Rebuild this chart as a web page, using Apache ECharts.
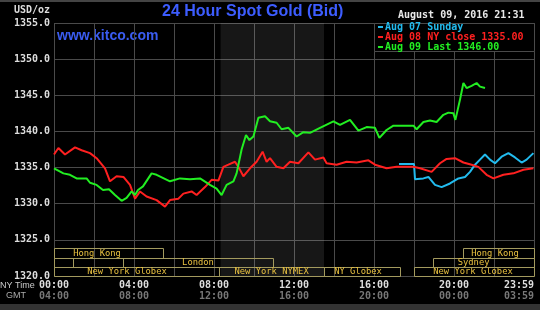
<!DOCTYPE html>
<html>
<head>
<meta charset="utf-8">
<script src="https://cdn.jsdelivr.net/npm/echarts@6/dist/echarts.min.js"></script>
<style>
html,body{margin:0;padding:0;background:#000;}
#main{width:540px;height:310px;}
</style>
</head>
<body>
<div id="main"></div>
<script>
// 时间(小时, 纽约时间) / 价格 USD/oz
var aug07 = [[17.25,1335.5],[18.0,1335.5],[18.05,1333.4],[18.13,1333.3],[18.47,1333.5],[18.72,1333.7],[19.05,1332.6],[19.38,1332.3],[19.8,1332.8],[20.22,1333.5],[20.55,1333.7],[20.8,1334.4],[21.05,1335.4],[21.3,1336.1],[21.55,1336.8],[21.8,1336.1],[22.05,1335.6],[22.38,1336.5],[22.72,1337.0],[23.05,1336.4],[23.38,1335.7],[23.63,1336.1],[23.97,1337.0]];
var aug08 = [[0,1336.8],[0.22,1337.7],[0.55,1336.8],[1.05,1337.8],[1.38,1337.4],[1.8,1337.0],[2.13,1336.3],[2.55,1334.9],[2.8,1333.1],[3.13,1333.8],[3.47,1333.7],[3.8,1332.6],[4.05,1330.7],[4.3,1331.7],[4.63,1331.0],[5.13,1330.5],[5.55,1329.6],[5.8,1330.5],[6.22,1330.7],[6.47,1331.4],[6.88,1331.7],[7.13,1331.2],[7.55,1332.3],[7.88,1333.3],[8.22,1333.2],[8.47,1335.1],[8.72,1335.4],[9.05,1335.8],[9.22,1335.1],[9.47,1333.8],[9.8,1334.9],[10.13,1335.8],[10.43,1337.2],[10.63,1335.8],[10.8,1336.3],[11.13,1335.1],[11.47,1334.9],[11.8,1335.8],[12.22,1335.6],[12.72,1337.1],[13.05,1336.1],[13.47,1336.4],[13.63,1335.6],[14.13,1335.4],[14.63,1335.8],[15.13,1335.7],[15.72,1336.0],[16.05,1335.4],[16.63,1334.9],[17.13,1335.1],[17.97,1335.1],[18.3,1334.9],[18.88,1334.4],[19.3,1335.6],[19.63,1336.2],[20.05,1336.3],[20.47,1335.7],[20.88,1335.4],[21.22,1335.1],[21.63,1334.0],[21.97,1333.5],[22.47,1334.0],[22.97,1334.2],[23.47,1334.7],[23.97,1334.9]];
var aug09 = [[0,1334.9],[0.47,1334.2],[0.8,1334.0],[1.13,1333.5],[1.63,1333.5],[1.8,1332.9],[2.13,1332.6],[2.45,1331.9],[2.75,1332.0],[3.05,1331.2],[3.38,1330.4],[3.63,1330.8],[3.88,1331.7],[4.05,1331.2],[4.2,1331.9],[4.45,1332.4],[4.88,1334.2],[5.13,1334.0],[5.8,1333.1],[6.3,1333.5],[6.8,1333.4],[7.3,1333.5],[7.8,1332.6],[8.13,1332.1],[8.38,1331.2],[8.63,1332.6],[8.97,1333.1],[9.13,1334.2],[9.38,1337.5],[9.6,1339.5],[9.77,1338.8],[9.97,1339.3],[10.22,1341.9],[10.55,1342.1],[10.8,1341.4],[11.13,1341.2],[11.38,1340.3],[11.72,1340.5],[12.13,1339.3],[12.47,1339.9],[12.8,1339.8],[13.3,1340.5],[13.97,1341.4],[14.3,1340.9],[14.8,1341.6],[15.22,1340.1],[15.63,1340.6],[16.05,1340.5],[16.27,1339.1],[16.63,1340.2],[16.97,1340.8],[17.97,1340.8],[18.13,1340.3],[18.47,1341.3],[18.8,1341.5],[19.13,1341.3],[19.47,1342.3],[19.72,1342.6],[19.97,1342.5],[20.07,1341.6],[20.3,1344.4],[20.47,1346.7],[20.63,1346.0],[20.88,1346.3],[21.13,1346.7],[21.3,1346.2],[21.55,1346.0]];
var seriesNames = ['Aug 07 Sunday', 'Aug 08 NY close 1335.00', 'Aug 09 Last 1346.00'];
var nyTicks = ['00:00','02:00','04:00','06:00','08:00','10:00','12:00','14:00','16:00','18:00','20:00','22:00','23:59'];
var gmtTicks = ['04:00','06:00','08:00','10:00','12:00','14:00','16:00','18:00','20:00','22:00','00:00','02:00','03:59'];
// NYMEX 交易时段 (阴影)
var nymexHours = [8.33, 13.5];
// 交易所时段: 开始, 结束, 行, 名称, 名称中心
var sessStart = [0, 0, 0.95, 3.45, 0, 8.25, 13.5, 18.0, 18.95, 20.45];
var sessEnd   = [5.45, 0.95, 3.45, 10.95, 8.25, 13.5, 17.3, 24, 24, 24];
var sessRow   = [0, 1, 1, 1, 2, 2, 2, 2, 1, 0];
var sessName  = ['Hong Kong', '', '', 'London', 'New York Globex', 'New York NYMEX', 'NY Globex', 'New York Globex', 'Sydney', 'Hong Kong'];
var sessMid   = [2.15, 0, 0, 7.2, 3.65, 10.88, 15.2, 20.95, 20.98, 22.05];
var rowTop = [1323.85, 1322.5, 1321.2, 1320.0];

var sessData = [];
for (var i = 0; i < sessStart.length; i++) {
	sessData.push([sessStart[i], sessEnd[i], sessRow[i], sessMid[i], sessName[i]]);
}

var mono = 'DejaVu Sans Mono';
var chart = echarts.init(document.getElementById('main'));
var option = {
	backgroundColor: '#000',
	animation: false,
	grid: {left: 54, right: 6, top: 23, bottom: 34},
	legend: {
		orient: 'vertical',
		left: 378, top: 22, padding: 0,
		itemWidth: 5, itemHeight: 2, itemGap: 0,
		icon: 'rect',
		z: 6,
		data: [
			{name: seriesNames[0], textStyle: {color: '#22bbee'}},
			{name: seriesNames[1], textStyle: {color: '#ff2020'}},
			{name: seriesNames[2], textStyle: {color: '#22ee22'}}
		],
		textStyle: {fontFamily: mono, fontSize: 10, fontWeight: 'bold', lineHeight: 9.3, padding: [0, 0, 0, -3]}
	},
	graphic: [
		{type: 'rect', left: 0, top: 0, shape: {width: 540, height: 2}, style: {fill: '#444'}},
		{type: 'rect', left: 0, top: 304, shape: {width: 540, height: 6}, style: {fill: '#333'}},
		{type: 'rect', left: 374, top: 23, z: 5, shape: {width: 160, height: 28}, style: {fill: '#000', stroke: '#4a4a4a', lineWidth: 1}},
		{type: 'text', left: 14, top: 5, style: {text: 'USD/oz', fill: '#ddd', font: 'bold 10px ' + mono}},
		{type: 'text', left: 162, top: 4, style: {text: '24 Hour Spot Gold (Bid)', fill: '#3d5dff', font: 'bold 16px "Liberation Sans"'}},
		{type: 'text', left: 57, top: 29, style: {text: 'www.kitco.com', fill: '#3a5cf0', font: 'bold 14px "Liberation Sans"'}},
		{type: 'text', left: 398, top: 10, style: {text: 'August 09, 2016 21:31', fill: '#e8e8e8', font: 'bold 10px ' + mono}},
		{type: 'text', left: 0, top: 281, style: {text: 'NY Time', fill: '#ccc', font: '9px "Liberation Sans"'}},
		{type: 'text', left: 6, top: 291, style: {text: 'GMT', fill: '#aaa', font: '9px "Liberation Sans"'}}
	],
	xAxis: {
		type: 'value', min: 0, max: 24, interval: 2,
		axisLine: {show: false}, axisTick: {show: false},
		splitLine: {show: true, lineStyle: {color: '#4a4a4a', width: 1}},
		axisLabel: {
			margin: 4,
			alignMaxLabel: 'right',
			formatter: function (v) {
				if (v % 4 !== 0) return '';
				var k = v / 2;
				return '{a|' + nyTicks[k] + '}\n{b|' + gmtTicks[k] + '}';
			},
			rich: {
				a: {fontFamily: mono, fontSize: 10, fontWeight: 'bold', color: '#ddd', lineHeight: 11},
				b: {fontFamily: mono, fontSize: 10, fontWeight: 'bold', color: '#777', lineHeight: 11}
			}
		}
	},
	yAxis: {
		type: 'value', min: 1320, max: 1355, interval: 5,
		axisLine: {show: false}, axisTick: {show: false},
		splitLine: {show: true, lineStyle: {color: '#4a4a4a', width: 1}},
		axisLabel: {
			margin: 4, color: '#ddd', fontFamily: mono, fontSize: 10, fontWeight: 'bold',
			formatter: function (v) { return v.toFixed(1); }
		}
	},
	series: [
		{
			name: 'sessions', type: 'custom', silent: true, z: 1,
			data: sessData,
			renderItem: function (params, api) {
				var x0 = api.coord([api.value(0), 0])[0];
				var x1 = api.coord([api.value(1), 0])[0];
				var r = api.value(2);
				var y0 = api.coord([0, rowTop[r]])[1];
				var y1 = api.coord([0, rowTop[r + 1]])[1];
				var xm = api.coord([api.value(3), 0])[0];
				return {
					type: 'group',
					children: [
						{type: 'rect', shape: {x: Math.round(x0) + 0.5, y: Math.round(y0) + 0.5, width: Math.round(x1 - x0), height: Math.round(y1 - y0)},
							style: {fill: 'none', stroke: '#a39a5e', lineWidth: 1}},
						{type: 'text', style: {text: api.value(4), x: xm, y: (y0 + y1) / 2 + 0.5, align: 'center', verticalAlign: 'middle',
							fill: '#e8c040', font: '8.8px ' + mono}}
					]
				};
			}
		},
		{
			name: seriesNames[0], type: 'line', data: aug07, showSymbol: false, z: 3,
			lineStyle: {color: '#22bbee', width: 2}, itemStyle: {color: '#22bbee'}
		},
		{
			name: seriesNames[1], type: 'line', data: aug08, showSymbol: false, z: 3,
			lineStyle: {color: '#ff2020', width: 2}, itemStyle: {color: '#ff2020'},
			markArea: {silent: true, itemStyle: {color: 'rgba(255,255,255,0.09)'},
				data: [[{xAxis: nymexHours[0]}, {xAxis: nymexHours[1]}]]}
		},
		{
			name: seriesNames[2], type: 'line', data: aug09, showSymbol: false, z: 4,
			lineStyle: {color: '#22ee22', width: 2}, itemStyle: {color: '#22ee22'}
		}
	]
};
chart.setOption(option);
</script>
</body>
</html>
